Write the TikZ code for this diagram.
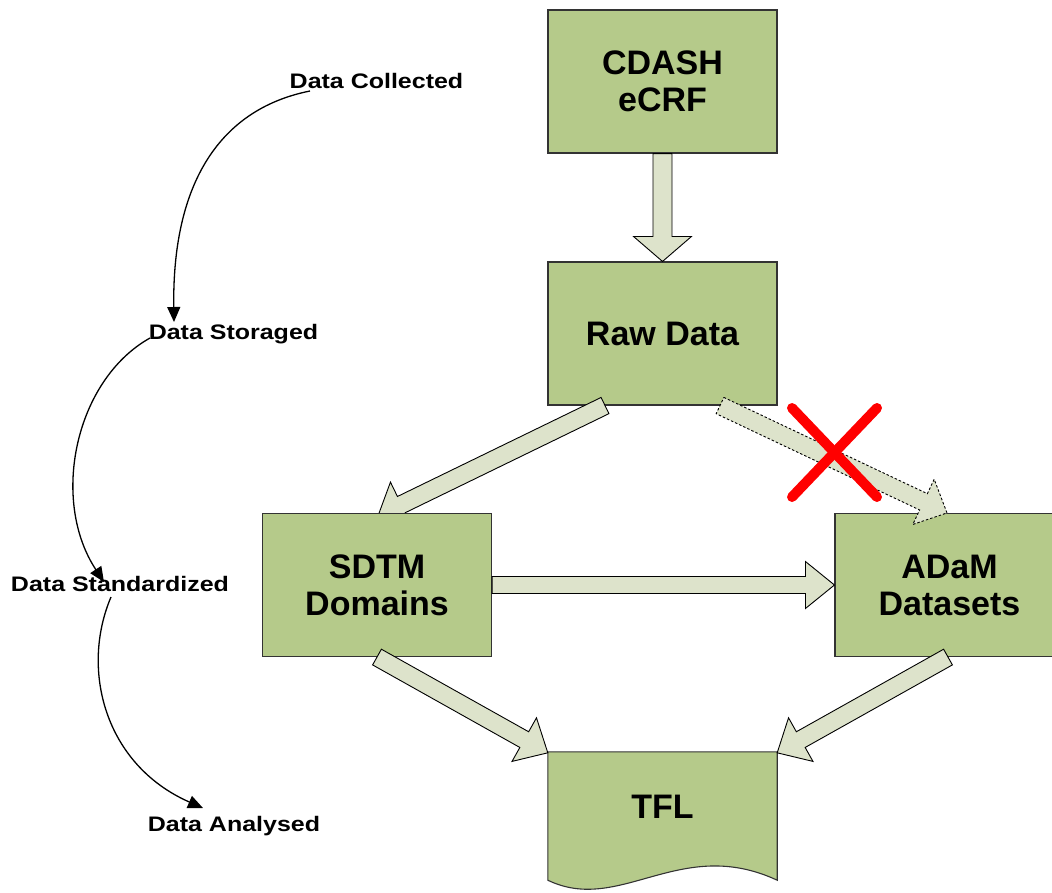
\documentclass[tikz,border=0pt]{standalone}
\usepackage{fontspec}
\setmainfont{Liberation Sans}
\newfontfamily\stagefamily{Liberation Sans}[FakeStretch=1.19]
\usetikzlibrary{calc,arrows.meta}
\pgfdeclarelayer{bg}
\pgfsetlayers{bg,main}

\definecolor{boxgreen}{RGB}{181,202,138}
\definecolor{arrowfill}{RGB}{221,227,203}
\definecolor{crossred}{RGB}{255,0,0}

\newcommand\boxfont{\fontsize{34pt}{37pt}\selectfont\bfseries}
\newcommand\stagefont{\stagefamily\fontsize{21pt}{24pt}\selectfont\bfseries}

\tikzset{
  box/.style={draw=black!80, line width=1.1pt, fill=boxgreen,
    minimum width=229pt, minimum height=143pt, inner sep=0pt,
    align=center, font=\boxfont},
  docshape/.style={minimum width=229pt, minimum height=128pt, inner sep=0pt},
  doctext/.style={inner sep=0pt, font=\boxfont},
  arrowbody/.style={draw=black, line width=0.9pt, fill=arrowfill, line join=miter},
  dashedbody/.style={dash pattern=on 2.5pt off 2pt},
  stage/.style={anchor=base, inner sep=0pt, font=\stagefont},
  flow/.style={draw=black, line width=1.3pt, -{Triangle[length=15pt,width=13pt]}},
  cross/.style={draw=crossred, line width=10pt, line cap=round},
}

% block arrow: [style]{from}{to}{shaft half width}{head half width}{head length}
\newcommand\blockarrow[6][]{%
  \coordinate (ba-a) at (#2);
  \coordinate (ba-b) at (#3);
  \coordinate (ba-h) at ($(ba-b)!#6!(ba-a)$);
  \draw[arrowbody,#1]
    ($(ba-a)!#4!90:(ba-b)$) -- ($(ba-h)!#4!90:(ba-b)$) --
    ($(ba-h)!#5!90:(ba-b)$) -- (ba-b) --
    ($(ba-h)!#5!-90:(ba-b)$) -- ($(ba-h)!#4!-90:(ba-b)$) --
    ($(ba-a)!#4!-90:(ba-b)$) -- cycle;
}

\begin{document}
\begin{tikzpicture}[x=1pt,y=-1pt]
\useasboundingbox (0,0) rectangle (1052,892);
\clip (0,0) rectangle (1052,892);

% upper boxes sit below the arrows that leave them
\begin{pgfonlayer}{bg}
  \node[box] (cdash) at (662.5,81.5) {CDASH\\eCRF};
  \node[box] (raw) at (662.5,333.5) {Raw Data};
\end{pgfonlayer}

\node[box] (sdtm) at (377,585) {SDTM\\Domains};
\node[box] (adam) at (949.5,585) {ADaM\\Datasets};

% arrows that run underneath the SDTM box
\begin{pgfonlayer}{bg}
  \blockarrow{cdash.south}{raw.north}{9.5pt}{29pt}{25pt}
  \blockarrow{[xshift=-57.5pt]raw.south}{[xshift=1pt,yshift=-3pt]sdtm.north}{9pt}{25pt}{26pt}
\end{pgfonlayer}

% remaining flow arrows
\blockarrow[dashedbody]{[xshift=57.5pt]raw.south}{[xshift=-2.5pt]adam.north}{9pt}{25pt}{26pt}
\blockarrow{sdtm.east}{adam.west}{8.5pt}{23.5pt}{29pt}

% TFL document box with wavy lower edge
\node[docshape] (tfl) at (662.5,816) {};
\draw[draw=black!80, line width=1.1pt, fill=boxgreen]
  (tfl.north west) -- (tfl.north east) -- (tfl.south east)
  .. controls (680,835) and (620,915) .. (tfl.south west) -- cycle;
\node[doctext] (tfllabel) at (662.5,807) {TFL};

\blockarrow{sdtm.south}{[yshift=-1pt]tfl.north west}{9pt}{25pt}{27pt}
\blockarrow{[xshift=-1.5pt]adam.south}{[yshift=-1pt]tfl.north east}{9pt}{25pt}{27pt}

% the direct Raw -> ADaM route is crossed out
\draw[cross] (792,408) -- (877,497);
\draw[cross] (877,408) -- (792,497);

% stage labels and their connecting curves
\node[stage] (collected) at (376.5,88) {Data Collected};
\node[stage] (storaged) at (233.5,339) {Data Storaged};
\node[stage] (standardized) at (120,591) {Data Standardized};
\node[stage] (analysed) at (234,831) {Data Analysed};

\draw[flow] ($(collected.base)+(-66.5,3)$)
  .. controls (215,110) and (172,190) .. ($(storaged.base)+(-59.5,-17)$);
\draw[flow] ($(storaged.base)+(-83.5,-1)$)
  .. controls (75,380) and (50,500) .. ($(standardized.base)+(-16,-9)$);
\draw[flow] ($(standardized.base)+(-9,6)$)
  .. controls (80,670) and (105,765) .. ($(analysed.base)+(-31,-23)$);
\end{tikzpicture}
\end{document}
